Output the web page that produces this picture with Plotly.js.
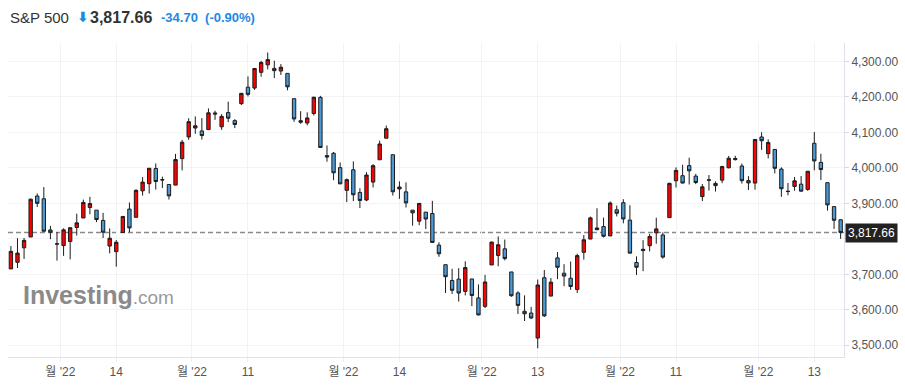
<!DOCTYPE html>
<html>
<head>
<meta charset="utf-8">
<script src="https://cdn.plot.ly/plotly-3.0.1.min.js"></script>
<style>
html,body{margin:0;padding:0;background:#fff;}
#chart{width:905px;height:389px;}
</style>
</head>
<body>
<div id="chart"></div>
<script>
// ---- data: S&P 500 daily candles (Jun 21 – Dec 19, 2022) ----
const dates = [
"2022-06-21","2022-06-22","2022-06-23","2022-06-24","2022-06-27","2022-06-28","2022-06-29","2022-06-30",
"2022-07-01","2022-07-05","2022-07-06","2022-07-07","2022-07-08","2022-07-11","2022-07-12","2022-07-13","2022-07-14","2022-07-15",
"2022-07-18","2022-07-19","2022-07-20","2022-07-21","2022-07-22","2022-07-25","2022-07-26","2022-07-27","2022-07-28","2022-07-29",
"2022-08-01","2022-08-02","2022-08-03","2022-08-04","2022-08-05","2022-08-08","2022-08-09","2022-08-10","2022-08-11","2022-08-12",
"2022-08-15","2022-08-16","2022-08-17","2022-08-18","2022-08-19","2022-08-22","2022-08-23","2022-08-24","2022-08-25","2022-08-26",
"2022-08-29","2022-08-30","2022-08-31",
"2022-09-01","2022-09-02","2022-09-06","2022-09-07","2022-09-08","2022-09-09","2022-09-12","2022-09-13","2022-09-14","2022-09-15",
"2022-09-16","2022-09-19","2022-09-20","2022-09-21","2022-09-22","2022-09-23","2022-09-26","2022-09-27","2022-09-28","2022-09-29","2022-09-30",
"2022-10-03","2022-10-04","2022-10-05","2022-10-06","2022-10-07","2022-10-10","2022-10-11","2022-10-12","2022-10-13","2022-10-14",
"2022-10-17","2022-10-18","2022-10-19","2022-10-20","2022-10-21","2022-10-24","2022-10-25","2022-10-26","2022-10-27","2022-10-28","2022-10-31",
"2022-11-01","2022-11-02","2022-11-03","2022-11-04","2022-11-07","2022-11-08","2022-11-09","2022-11-10","2022-11-11","2022-11-14",
"2022-11-15","2022-11-16","2022-11-17","2022-11-18","2022-11-21","2022-11-22","2022-11-23","2022-11-25","2022-11-28","2022-11-29","2022-11-30",
"2022-12-01","2022-12-02","2022-12-05","2022-12-06","2022-12-07","2022-12-08","2022-12-09","2022-12-12","2022-12-13","2022-12-14",
"2022-12-15","2022-12-16","2022-12-19"
];
const openVals = [
3715.31,3733.89,3774.71,3805.30,3920.76,3913.00,3825.09,3785.99,
3781.00,3792.61,3831.98,3858.85,3888.26,3880.94,3851.95,3779.67,3763.99,3818.00,
3883.79,3860.73,3935.32,3955.47,3998.43,3965.72,3953.22,3951.43,4026.13,4087.33,
4112.38,4104.21,4107.96,4154.85,4115.87,4155.93,4133.11,4181.02,4227.40,4225.02,
4269.37,4290.46,4280.40,4273.13,4266.31,4195.08,4133.09,4126.55,4153.26,4198.74,
4034.58,4041.25,4000.67,
3936.73,3994.66,3930.89,3909.43,3959.94,4022.94,4083.67,4037.12,3940.73,3932.41,
3880.95,3849.91,3875.23,3871.40,3782.36,3727.14,3682.72,3686.44,3651.94,3687.01,3633.48,
3609.78,3726.46,3753.25,3771.97,3706.74,3647.51,3595.86,3590.83,3520.37,3690.41,
3638.65,3746.26,3703.11,3689.05,3657.10,3762.01,3799.44,3825.97,3834.69,3808.26,3881.85,
3901.79,3852.90,3733.25,3766.98,3780.71,3817.02,3810.94,3859.89,3963.72,3977.97,
4006.41,3976.82,3919.26,3966.39,3956.23,3965.51,4000.30,4023.34,4005.36,3964.19,3957.18,
4087.14,4040.17,4052.02,3996.63,3933.28,3947.79,3954.17,3939.29,4069.38,4015.54,
3958.37,3890.91,3853.79
];
const highVals = [
3779.65,3801.79,3802.58,3913.65,3927.72,3945.86,3836.50,3818.99,
3829.82,3832.19,3870.91,3910.63,3918.50,3880.94,3873.41,3829.44,3796.41,3863.62,
3902.44,3939.81,3974.13,3999.29,4012.44,3975.30,3953.22,4039.56,4078.95,4140.15,
4144.95,4140.47,4167.66,4161.29,4151.58,4186.62,4137.30,4211.03,4257.91,4280.47,
4301.79,4325.28,4302.18,4292.53,4266.31,4195.08,4159.77,4156.56,4200.54,4203.04,
4062.99,4044.98,4015.37,
3970.23,4018.43,3942.55,3987.89,4010.50,4076.81,4119.28,4037.12,3961.94,3959.14,
3880.95,3900.45,3876.01,3907.07,3790.45,3727.14,3715.67,3717.53,3736.74,3687.01,3671.44,
3698.35,3791.92,3806.91,3797.93,3706.74,3652.17,3640.66,3608.34,3685.41,3712.00,
3689.73,3762.79,3728.58,3736.00,3757.89,3810.74,3862.85,3886.15,3859.95,3905.42,3893.73,
3911.79,3894.44,3750.59,3796.34,3813.95,3859.40,3818.20,3958.33,4001.48,4008.97,
4028.84,3983.09,3954.33,3979.89,3962.00,4005.88,4033.78,4034.02,4012.27,3976.77,4080.11,
4100.51,4080.48,4052.45,4001.51,3957.57,3974.19,3977.02,3990.71,4100.96,4039.85,
3958.37,3890.91,3854.86
];
const lowVals = [
3715.31,3717.69,3743.52,3805.30,3889.66,3820.14,3799.02,3738.67,
3752.10,3742.06,3809.37,3858.85,3869.34,3847.22,3802.36,3759.07,3721.56,3817.18,
3818.63,3860.73,3922.03,3927.64,3938.85,3943.46,3910.74,3951.43,3992.97,4079.22,
4096.02,4079.81,4107.96,4135.42,4107.31,4128.97,4112.09,4177.26,4201.41,4219.78,
4256.90,4277.77,4253.08,4261.98,4218.70,4129.86,4124.03,4119.97,4147.59,4057.66,
4017.42,3965.21,3954.53,
3903.65,3906.21,3886.75,3906.03,3944.81,4022.94,4083.67,3921.96,3912.68,3888.28,
3837.08,3838.50,3827.54,3789.49,3749.45,3647.47,3644.76,3623.29,3640.61,3610.40,3584.13,
3604.93,3726.46,3722.66,3739.22,3636.66,3588.10,3568.45,3573.86,3491.58,3579.68,
3638.65,3686.53,3666.51,3656.44,3647.42,3741.65,3799.44,3824.07,3803.79,3808.26,3863.18,
3843.80,3758.68,3698.15,3708.84,3764.70,3786.28,3744.22,3859.89,3944.82,3956.40,
3953.17,3954.34,3906.54,3935.98,3933.34,3956.88,3998.66,4020.76,3955.77,3937.65,3938.58,
4050.87,4026.63,3984.49,3918.39,3922.68,3935.83,3933.04,3935.30,3993.03,3965.65,
3879.45,3827.91,3800.04
];
const closeVals = [
3764.79,3759.89,3795.73,3911.74,3900.11,3821.55,3818.83,3785.38,
3825.33,3831.39,3845.08,3902.62,3899.38,3854.43,3818.80,3801.78,3790.38,3863.16,
3830.85,3936.69,3959.90,3998.95,3961.63,3966.84,3921.05,4023.61,4072.43,4130.29,
4118.63,4091.19,4155.17,4151.94,4145.19,4140.06,4122.47,4210.24,4207.27,4280.15,
4297.14,4305.20,4274.04,4283.74,4228.48,4137.99,4128.73,4140.77,4199.12,4057.66,
4030.61,3986.16,3955.00,
3966.85,3924.26,3908.19,3979.87,4006.18,4067.36,4110.41,3932.69,3946.01,3901.35,
3873.33,3899.89,3855.93,3789.93,3757.99,3693.23,3655.04,3647.29,3719.04,3640.47,3585.62,
3678.43,3790.93,3783.28,3744.52,3639.66,3612.39,3588.84,3577.03,3669.91,3583.07,
3677.95,3719.98,3695.16,3665.78,3752.75,3797.34,3859.11,3830.60,3807.30,3901.06,3871.98,
3856.10,3759.69,3719.89,3770.55,3806.80,3828.11,3748.57,3956.37,3992.93,3957.25,
3991.73,3958.79,3946.56,3965.34,3949.94,4003.58,4027.26,4026.12,3963.94,3957.63,4080.11,
4076.57,4071.70,3998.84,3941.26,3933.92,3963.51,3934.38,3990.56,4019.65,3995.32,
3895.75,3852.36,3817.66
];
// x-axis ticks: month boundaries and mid-month days
const tickDates  = ["2022-07-01","2022-07-14","2022-08-01","2022-08-11","2022-09-01","2022-09-14",
                    "2022-10-03","2022-10-13","2022-11-01","2022-11-11","2022-12-01","2022-12-13"];
const tickIsMonth = [true,false,true,false,true,false,true,false,true,false,true,false];
const tickLabels = ["월 '22","14","월 '22","11","월 '22","14","월 '22","13","월 '22","11","월 '22","13"];
const yTicks = [3500,3600,3700,3800,3900,4000,4100,4200,4300];
const lastPrice = 3817.66, change = -34.70, changePct = -0.90;
const instrument = "S&P 500";

// ---- build ----
const xIdx = dates.map((d,i)=>i);
const tickVals = tickDates.map((d,k)=>dates.indexOf(d) - (tickIsMonth[k] ? 0.5 : 0));

const FONT = "'Liberation Sans', Arial, 'Noto Sans CJK KR', sans-serif";
const L = 8, R = 844, T = 43, B = 357, W = 905, H = 389;
const px2x = p => (p - L) / (R - L);
const py2y = p => (B - p) / (B - T);

const trace = {
  type: 'candlestick',
  x: xIdx, open: openVals, high: highVals, low: lowVals, close: closeVals,
  increasing: {line: {color: '#1c1c1c', width: 1}, fillcolor: '#ff0000'},
  decreasing: {line: {color: '#1c1c1c', width: 1}, fillcolor: '#4a9ad8'},
  whiskerwidth: 0,
  hoverinfo: 'skip',
  showlegend: false
};

const fmt = v => v.toLocaleString('en-US',{minimumFractionDigits:2, maximumFractionDigits:2});
// the 3,800.00 label sits under the last-price badge in the reference
const yTickText = yTicks.map(v => Math.abs(v - lastPrice) < 25 ? '' : fmt(v));

const layout = {
  width: W, height: H,
  margin: {l: L, r: W - R, t: T, b: H - B, pad: 0},
  paper_bgcolor: '#ffffff', plot_bgcolor: '#ffffff',
  font: {family: FONT, size: 12, color: '#555'},
  showlegend: false,
  boxgap: 0.27,
  xaxis: {
    type: 'linear', range: [-0.44, dates.length - 0.49],
    tickmode: 'array', tickvals: tickVals, ticktext: tickLabels,
    showgrid: true, gridcolor: '#f1f3f7', gridwidth: 1,
    ticks: 'outside', ticklen: 4, tickcolor: '#eceef2',
    showline: true, linecolor: '#dfe2e8', linewidth: 1,
    zeroline: false, rangeslider: {visible: false},
    tickfont: {family: FONT, size: 12, color: '#555'},
    fixedrange: true
  },
  yaxis: {
    side: 'right', range: [3467, 4352],
    tickmode: 'array', tickvals: yTicks, ticktext: yTickText,
    showgrid: true, gridcolor: '#f1f3f7', gridwidth: 1,
    ticks: 'outside', ticklen: 4, tickcolor: '#d5d8de',
    showline: true, linecolor: '#dfe2e8', linewidth: 1,
    zeroline: false,
    tickfont: {family: FONT, size: 12, color: '#555'},
    fixedrange: true
  },
  shapes: [{
    type: 'line', xref: 'paper', yref: 'y', x0: 0, x1: 1, y0: lastPrice, y1: lastPrice,
    line: {color: '#8a8a8a', width: 1.5, dash: '5px,3px'}, layer: 'below'
  }],
  annotations: [
    {xref:'paper', yref:'y', x: 1, y: lastPrice, xanchor:'left', yanchor:'middle', xshift: 1,
     text: fmt(lastPrice), showarrow:false, bgcolor:'#222222', borderpad: 2,
     font:{family: FONT, size: 12, color:'#ffffff'}},
    {xref:'paper', yref:'paper', x: px2x(8), y: py2y(17), xanchor:'left', yanchor:'middle',
     text: instrument, showarrow:false, font:{family: FONT, size: 15, color:'#333'}},
    {xref:'paper', yref:'paper', x: px2x(75), y: py2y(17), xanchor:'left', yanchor:'middle',
     text: '<b>⬇</b>', showarrow:false, font:{family: "'DejaVu Sans', sans-serif", size: 14, color:'#1e88e5'}},
    {xref:'paper', yref:'paper', x: px2x(88), y: py2y(17), xanchor:'left', yanchor:'middle',
     text: '<b>' + fmt(lastPrice) + '</b>', showarrow:false, font:{family: FONT, size: 16, color:'#333'}},
    {xref:'paper', yref:'paper', x: px2x(159), y: py2y(18), xanchor:'left', yanchor:'middle',
     text: '<b>' + change.toFixed(2) + '&nbsp;&nbsp;(' + changePct.toFixed(2) + '%)</b>', showarrow:false,
     font:{family: FONT, size: 13, color:'#1e88e5'}},
    {xref:'paper', yref:'paper', x: px2x(21), y: py2y(295), xanchor:'left', yanchor:'middle',
     text: '<b>Investing</b><span style="font-size:19px;color:#999">.com</span>', showarrow:false,
     font:{family: FONT, size: 25, color:'#8a8a8a'}}
  ]
};

Plotly.newPlot('chart', [trace], layout, {displayModeBar: false, staticPlot: true});
</script>
</body>
</html>
